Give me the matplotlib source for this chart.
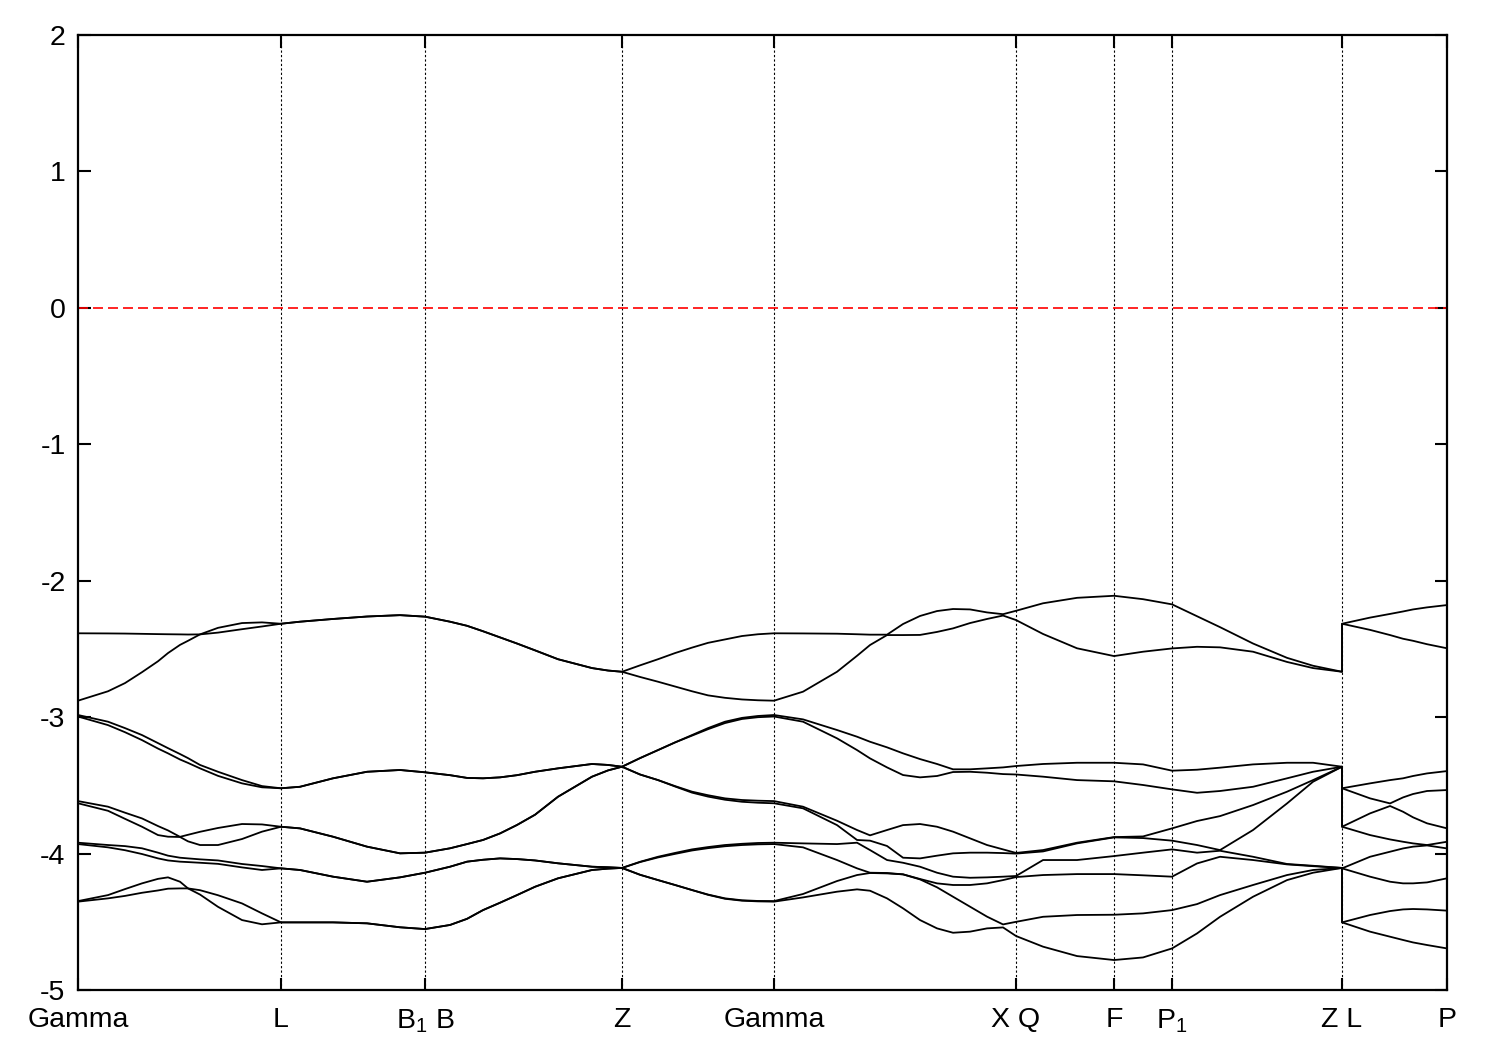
import numpy as np
import matplotlib.pyplot as plt

plt.rcParams['font.family'] = ['Liberation Sans', 'DejaVu Sans']
plt.rcParams['mathtext.fontset'] = 'custom'
plt.rcParams['mathtext.rm'] = 'Liberation Sans'
plt.rcParams['axes.unicode_minus'] = False

# k-path distance of the sampled points (Z|L jump gives the repeated 1.264)
k = [0.000, 0.030, 0.047, 0.064, 0.080, 0.090, 0.102, 0.110, 0.122, 0.140, 0.164, 0.184, 0.203,
     0.222, 0.255, 0.289, 0.322, 0.347,
     0.372, 0.389, 0.405, 0.422, 0.439, 0.457, 0.480, 0.514, 0.530, 0.544,
     0.562, 0.580, 0.597, 0.614, 0.630, 0.647, 0.664, 0.680, 0.696,
     0.725, 0.759, 0.779, 0.792, 0.809, 0.825, 0.842, 0.859, 0.875, 0.892, 0.909, 0.925, 0.938,
     0.965, 0.999, 1.036,
     1.065, 1.094,
     1.119, 1.142, 1.175, 1.209, 1.235, 1.264,
     1.264, 1.292, 1.312, 1.325, 1.335, 1.349, 1.369]

# band energies (eV), lowest band first
band1 = [-4.352, -4.328, -4.310, -4.287, -4.270, -4.257, -4.255, -4.255, -4.300, -4.390, -4.487, -4.518, -4.504,
         -4.504, -4.504, -4.511, -4.540, -4.553,
         -4.523, -4.478, -4.414, -4.360, -4.304, -4.243, -4.181, -4.120, -4.110, -4.105,
         -4.155, -4.194, -4.230, -4.267, -4.302, -4.331, -4.345, -4.350, -4.352,
         -4.321, -4.279, -4.262, -4.272, -4.328, -4.401, -4.487, -4.548, -4.580, -4.572, -4.548, -4.541, -4.604,
         -4.682, -4.751, -4.780,
         -4.761, -4.695,
         -4.585, -4.463, -4.316, -4.194, -4.140, -4.105,
         -4.504, -4.572, -4.609, -4.633, -4.651, -4.670, -4.695]
band2 = [-4.348, -4.304, -4.260, -4.218, -4.185, -4.174, -4.206, -4.255, -4.268, -4.305, -4.365, -4.438, -4.504,
         -4.504, -4.504, -4.511, -4.540, -4.553,
         -4.523, -4.478, -4.414, -4.360, -4.304, -4.243, -4.181, -4.120, -4.110, -4.105,
         -4.155, -4.194, -4.230, -4.267, -4.300, -4.328, -4.342, -4.347, -4.348,
         -4.296, -4.201, -4.157, -4.142, -4.145, -4.152, -4.189, -4.247, -4.316, -4.389, -4.462, -4.519, -4.500,
         -4.463, -4.450, -4.448,
         -4.438, -4.414,
         -4.370, -4.304, -4.230, -4.157, -4.120, -4.105,
         -4.504, -4.450, -4.421, -4.409, -4.406, -4.409, -4.418]
band3 = [-3.930, -3.954, -3.975, -4.003, -4.035, -4.050, -4.059, -4.062, -4.067, -4.075, -4.101, -4.120, -4.108,
         -4.120, -4.169, -4.206, -4.174, -4.140,
         -4.096, -4.059, -4.045, -4.035, -4.040, -4.050, -4.071, -4.096, -4.100, -4.105,
         -4.062, -4.028, -4.002, -3.977, -3.960, -3.946, -3.937, -3.932, -3.930,
         -3.954, -4.047, -4.108, -4.140, -4.142, -4.152, -4.186, -4.218, -4.230, -4.230, -4.218, -4.194, -4.172,
         -4.157, -4.150, -4.150,
         -4.159, -4.169,
         -4.072, -4.023, -4.047, -4.079, -4.092, -4.105,
         -4.108, -4.169, -4.206, -4.218, -4.218, -4.211, -4.181]
band4 = [-3.920, -3.937, -3.945, -3.961, -3.993, -4.015, -4.030, -4.035, -4.042, -4.050, -4.076, -4.091, -4.108,
         -4.120, -4.169, -4.206, -4.174, -4.140,
         -4.096, -4.059, -4.045, -4.035, -4.040, -4.050, -4.071, -4.096, -4.100, -4.105,
         -4.060, -4.023, -3.995, -3.969, -3.952, -3.937, -3.928, -3.922, -3.920,
         -3.925, -3.930, -3.920, -3.974, -4.047, -4.067, -4.096, -4.140, -4.169, -4.177, -4.174, -4.169, -4.164,
         -4.047, -4.047, -4.018,
         -3.993, -3.969,
         -3.993, -3.979, -4.023, -4.076, -4.089, -4.105,
         -4.108, -4.023, -3.986, -3.962, -3.949, -3.940, -3.962]
band5 = [-3.631, -3.686, -3.745, -3.803, -3.864, -3.876, -3.878, -3.910, -3.937, -3.937, -3.893, -3.839, -3.803,
         -3.815, -3.876, -3.949, -3.998, -3.993,
         -3.961, -3.930, -3.900, -3.852, -3.790, -3.715, -3.583, -3.436, -3.390, -3.363,
         -3.420, -3.461, -3.508, -3.553, -3.582, -3.605, -3.620, -3.627, -3.631,
         -3.668, -3.791, -3.900, -3.905, -3.944, -4.030, -4.035, -4.015, -3.998, -3.993, -3.993, -3.996, -4.000,
         -3.984, -3.925, -3.881,
         -3.886, -3.905,
         -3.937, -3.974, -3.827, -3.632, -3.473, -3.363,
         -3.803, -3.864, -3.896, -3.913, -3.925, -3.937, -3.913]
band6 = [-3.615, -3.656, -3.700, -3.742, -3.798, -3.830, -3.877, -3.862, -3.840, -3.812, -3.783, -3.786, -3.803,
         -3.815, -3.876, -3.949, -3.998, -3.993,
         -3.961, -3.930, -3.900, -3.852, -3.790, -3.715, -3.583, -3.436, -3.390, -3.363,
         -3.420, -3.461, -3.505, -3.546, -3.572, -3.595, -3.607, -3.612, -3.615,
         -3.656, -3.759, -3.827, -3.866, -3.827, -3.791, -3.783, -3.803, -3.839, -3.888, -3.937, -3.969, -3.995,
         -3.974, -3.920, -3.879,
         -3.874, -3.815,
         -3.761, -3.725, -3.644, -3.546, -3.461, -3.363,
         -3.803, -3.705, -3.651, -3.693, -3.734, -3.778, -3.815]
band7 = [-2.995, -3.058, -3.110, -3.168, -3.230, -3.265, -3.310, -3.335, -3.375, -3.430, -3.485, -3.514, -3.521,
         -3.510, -3.448, -3.400, -3.387, -3.404,
         -3.425, -3.445, -3.448, -3.441, -3.425, -3.400, -3.375, -3.343, -3.350, -3.363,
         -3.300, -3.241, -3.185, -3.135, -3.088, -3.043, -3.013, -3.000, -2.995,
         -3.033, -3.155, -3.241, -3.302, -3.368, -3.424, -3.441, -3.431, -3.402, -3.400, -3.407, -3.417, -3.420,
         -3.436, -3.461, -3.470,
         -3.497, -3.529,
         -3.554, -3.541, -3.510, -3.448, -3.400, -3.363,
         -3.521, -3.595, -3.632, -3.588, -3.563, -3.541, -3.534]
band8 = [-2.984, -3.033, -3.080, -3.131, -3.190, -3.227, -3.270, -3.300, -3.350, -3.400, -3.461, -3.505, -3.521,
         -3.510, -3.448, -3.400, -3.387, -3.404,
         -3.425, -3.445, -3.448, -3.441, -3.425, -3.400, -3.375, -3.343, -3.350, -3.363,
         -3.300, -3.241, -3.185, -3.131, -3.080, -3.033, -3.005, -2.991, -2.984,
         -3.016, -3.094, -3.143, -3.180, -3.221, -3.265, -3.307, -3.343, -3.382, -3.382, -3.375, -3.368, -3.358,
         -3.343, -3.334, -3.334,
         -3.346, -3.392,
         -3.385, -3.370, -3.346, -3.334, -3.334, -3.363,
         -3.521, -3.485, -3.461, -3.448, -3.431, -3.412, -3.395]
band9 = [-2.879, -2.810, -2.750, -2.670, -2.590, -2.530, -2.470, -2.440, -2.393, -2.380, -2.355, -2.335, -2.315,
         -2.300, -2.280, -2.262, -2.252, -2.263,
         -2.300, -2.330, -2.370, -2.415, -2.460, -2.510, -2.575, -2.640, -2.658, -2.667,
         -2.705, -2.740, -2.775, -2.810, -2.840, -2.858, -2.870, -2.876, -2.879,
         -2.813, -2.667, -2.550, -2.471, -2.398, -2.398, -2.397, -2.375, -2.349, -2.310, -2.280, -2.255, -2.288,
         -2.390, -2.495, -2.552,
         -2.520, -2.496,
         -2.484, -2.488, -2.520, -2.595, -2.640, -2.667,
         -2.315, -2.360, -2.398, -2.425, -2.440, -2.465, -2.495]
band10 = [-2.385, -2.386, -2.387, -2.389, -2.391, -2.392, -2.393, -2.394, -2.393, -2.345, -2.310, -2.305, -2.315,
          -2.300, -2.280, -2.262, -2.252, -2.263,
          -2.300, -2.330, -2.370, -2.415, -2.460, -2.510, -2.575, -2.640, -2.658, -2.667,
          -2.620, -2.575, -2.530, -2.490, -2.455, -2.430, -2.405, -2.392, -2.385,
          -2.386, -2.388, -2.392, -2.395, -2.395, -2.317, -2.258, -2.222, -2.207, -2.210, -2.232, -2.245, -2.220,
          -2.165, -2.125, -2.110,
          -2.135, -2.173,
          -2.260, -2.340, -2.460, -2.565, -2.623, -2.667,
          -2.315, -2.270, -2.243, -2.225, -2.210, -2.195, -2.178]

bands = [band1, band2, band3, band4, band5, band6, band7, band8, band9, band10]

# high symmetry points
kticks = [0.000, 0.203, 0.347, 0.544, 0.696, 0.938, 1.036, 1.094, 1.264, 1.369]
klabels = ['Gamma', 'L', r'B$_1$ B', 'Z', 'Gamma', 'X Q', 'F', r'P$_1$', 'Z L', 'P']
e_fermi = 0.0

fig = plt.figure(figsize=(15, 10.5), dpi=100)
ax = fig.add_axes([0.052, 0.0571, 0.9127, 0.9095])

for b in bands:
    ax.plot(k, b, color='black', lw=1.3, zorder=3)

for t in kticks[1:-1]:
    ax.axvline(t, color='black', lw=0.8, ls=(0, (2, 2)), zorder=1)
ax.axhline(e_fermi, color='red', lw=1.2, ls=(0, (6, 3)), zorder=2)

ax.set_xlim(kticks[0], kticks[-1])
ax.set_ylim(-5, 2)
ax.set_xticks(kticks)
ax.set_xticklabels(klabels)
ax.set_yticks(np.arange(-5, 3, 1))
ax.tick_params(direction='in', length=9, width=1.5, labelsize=20.5,
               top=True, right=True)
ax.tick_params(axis='x', pad=12)
ax.tick_params(axis='y', pad=9)
for s in ax.spines.values():
    s.set_linewidth(1.6)

fig.savefig('out.png', dpi=100)
